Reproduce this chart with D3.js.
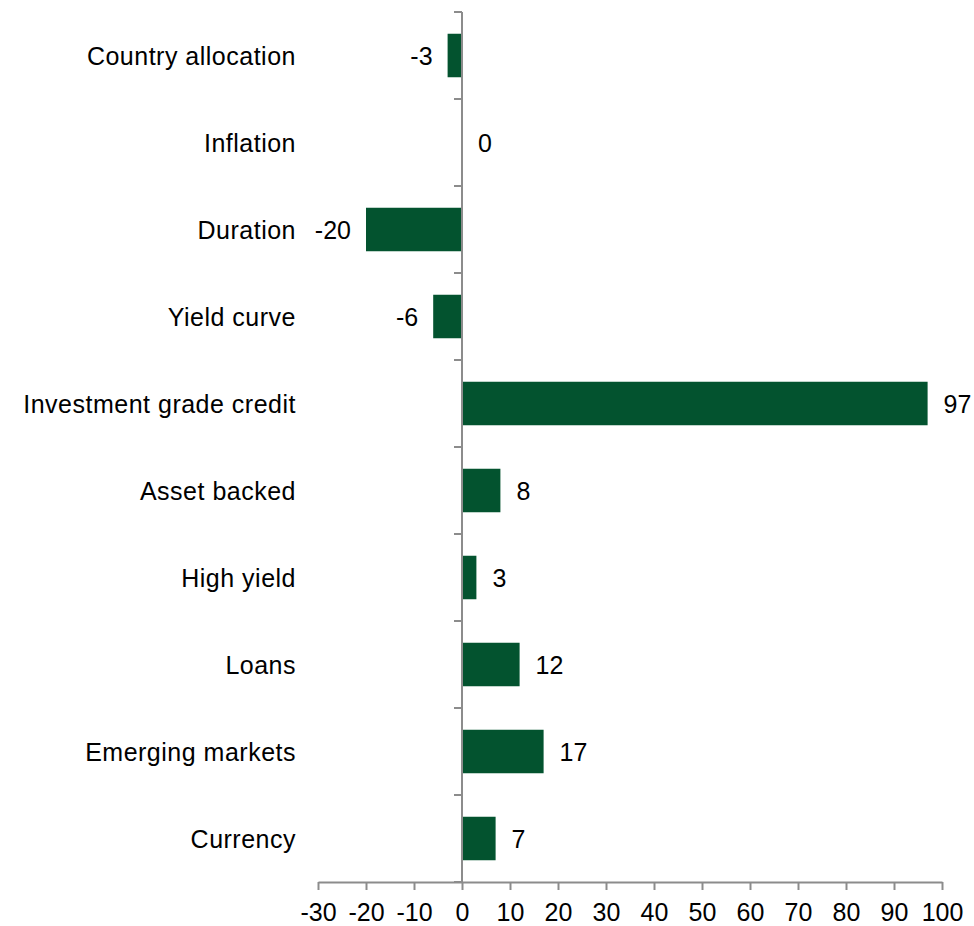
<!DOCTYPE html>
<html>
<head>
<meta charset="utf-8">
<script src="https://cdn.jsdelivr.net/npm/d3@7"></script>
<style>
  html, body { margin: 0; padding: 0; background: #fff; }
  svg { display: block; font-family: "Liberation Sans", Arial, sans-serif; }
</style>
</head>
<body>
<svg id="chart" width="974" height="926"></svg>
<script>
// Contribution by strategy
const categories = [
  "Country allocation", "Inflation", "Duration", "Yield curve",
  "Investment grade credit", "Asset backed", "High yield", "Loans",
  "Emerging markets", "Currency"
];
const values = [-3, 0, -20, -6, 97, 8, 3, 12, 17, 7];
const xTicks = [-30, -20, -10, 0, 10, 20, 30, 40, 50, 60, 70, 80, 90, 100];

const barColor = "#03532f";
const axisColor = "#8c8c8c";
const fontSize = 25;

const svg = d3.select("#chart");
const margin = { top: 12, right: 32, bottom: 44, left: 318 };
const W = 974, H = 926;

const x = d3.scaleLinear().domain([-30, 100]).range([margin.left, W - margin.right]);
const y = d3.scaleBand().domain(categories)
  .range([margin.top, H - margin.bottom]).paddingInner(0.5).paddingOuter(0.25);

// Bars
svg.append("g").selectAll("rect").data(values).join("rect")
  .attr("x", d => x(Math.min(0, d)))
  .attr("y", (d, i) => y(categories[i]))
  .attr("width", d => Math.abs(x(d) - x(0)))
  .attr("height", y.bandwidth())
  .attr("fill", barColor);

// Value labels
svg.append("g").selectAll("text").data(values).join("text")
  .attr("x", d => d < 0 ? x(d) - 15 : x(d) + 16)
  .attr("y", (d, i) => y(categories[i]) + y.bandwidth() / 2)
  .attr("dy", "0.36em")
  .attr("text-anchor", d => d < 0 ? "end" : "start")
  .attr("font-size", fontSize)
  .attr("fill", "#000")
  .text(d => String(d));

// X axis
const xAxis = svg.append("g")
  .attr("transform", `translate(0,${H - margin.bottom})`)
  .call(d3.axisBottom(x).tickValues(xTicks).tickFormat(d => String(d))
    .tickSize(8).tickSizeOuter(0).tickPadding(13));
xAxis.select(".domain").attr("stroke", axisColor).attr("stroke-width", 2);
xAxis.selectAll(".tick line").attr("stroke", axisColor).attr("stroke-width", 2);
xAxis.selectAll(".tick text").attr("font-size", fontSize).attr("fill", "#000")
  .attr("font-family", "Liberation Sans, Arial, sans-serif");

// Y axis at zero, with ticks on category boundaries
const yAxisG = svg.append("g");
yAxisG.append("line")
  .attr("x1", x(0)).attr("x2", x(0))
  .attr("y1", margin.top).attr("y2", H - margin.bottom)
  .attr("stroke", axisColor).attr("stroke-width", 2);
const boundaries = d3.range(categories.length + 1).map(i => margin.top + i * (H - margin.top - margin.bottom) / categories.length);
yAxisG.selectAll("line.tk").data(boundaries).join("line")
  .attr("class", "tk")
  .attr("x1", x(0) - 8).attr("x2", x(0))
  .attr("y1", d => d).attr("y2", d => d)
  .attr("stroke", axisColor).attr("stroke-width", 2);

// Category labels
svg.append("g").selectAll("text").data(categories).join("text")
  .attr("x", 296)
  .attr("y", d => y(d) + y.bandwidth() / 2)
  .attr("dy", "0.36em")
  .attr("text-anchor", "end")
  .attr("font-size", fontSize)
  .attr("letter-spacing", "0.5")
  .attr("fill", "#000")
  .text(d => d);
</script>
</body>
</html>
